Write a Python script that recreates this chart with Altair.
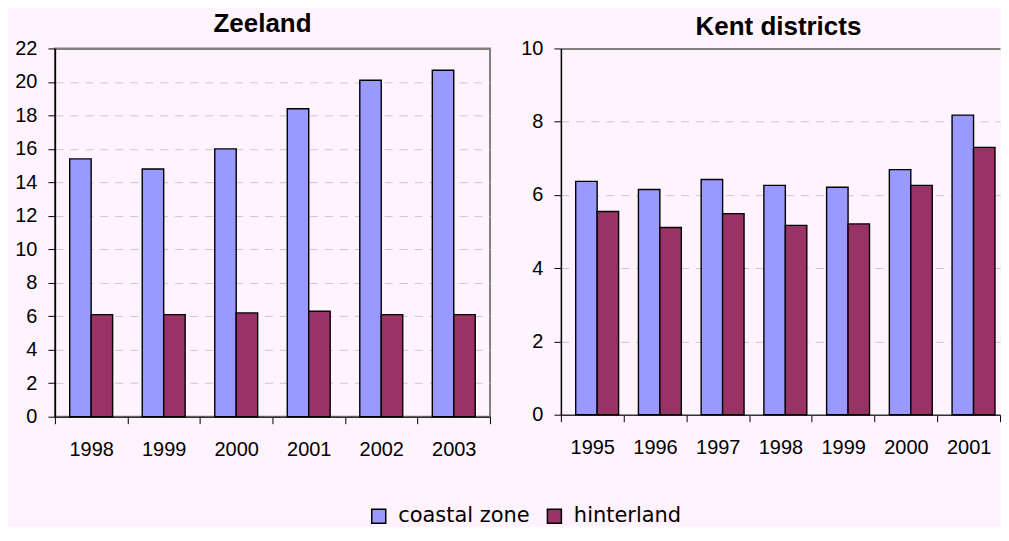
import altair as alt
import pandas as pd

# ---- data ----
series = ["coastal zone", "hinterland"]
colors = ["#9999FF", "#993366"]

z_years = ["1998", "1999", "2000", "2001", "2002", "2003"]
z_coastal = [15.4, 14.8, 16.0, 18.4, 20.1, 20.7]
z_hinter = [6.1, 6.1, 6.2, 6.3, 6.1, 6.1]

k_years = ["1995", "1996", "1997", "1998", "1999", "2000", "2001"]
k_coastal = [6.37, 6.15, 6.42, 6.26, 6.21, 6.69, 8.18]
k_hinter = [5.55, 5.11, 5.49, 5.17, 5.21, 6.26, 7.30]

z_ticks = [0, 2, 4, 6, 8, 10, 12, 14, 16, 18, 20, 22]
k_ticks = [0, 2, 4, 6, 8, 10]

FONT = "Liberation Sans"
BG = "#FFF4FE"


def long_df(years, a, b):
    rows = []
    for y, v1, v2 in zip(years, a, b):
        rows.append({"year": y, "series": series[0], "value": v1})
        rows.append({"year": y, "series": series[1], "value": v2})
    return pd.DataFrame(rows)


legend = alt.Legend(
    title=None,
    orient="none",
    legendX=314,
    legendY=458,
    direction="horizontal",
    symbolType="square",
    symbolSize=196,
    symbolStrokeColor="black",
    symbolStrokeWidth=1.5,
    symbolOpacity=1,
    labelFont="DejaVu Sans",
    labelFontSize=21,
    labelColor="black",
    labelOffset=9,
    columnPadding=14,
)


def panel(years, a, b, title, ticks, w, h, pad_outer, title_offset, title_dx, view):
    df = long_df(years, a, b)
    top = ticks[-1]
    grid_dash = {"condition": {"test": f"datum.value == {top}", "value": [1, 0]}, "value": [8, 7]}
    grid_color = {"condition": {"test": f"datum.value == {top}", "value": "#808080"}, "value": "#C8C8C8"}
    grid_width = {"condition": {"test": f"datum.value == {top}", "value": 2}, "value": 1}
    bars = alt.Chart(df).mark_bar(stroke="black", strokeWidth=1.4).encode(
        x=alt.X(
            "year:N",
            sort=years,
            scale=alt.Scale(paddingInner=0, paddingOuter=0),
            axis=alt.Axis(
                title=None,
                labelAngle=0,
                tickBand="extent",
                tickSize=7,
                tickColor="black",
                tickWidth=1,
                domainColor="#333333",
                domainWidth=1.5,
                labelPadding=16,
                labelFont=FONT,
                labelFontSize=20,
                labelColor="black",
                grid=False,
            ),
        ),
        xOffset=alt.XOffset(
            "series:N",
            sort=series,
            scale=alt.Scale(paddingInner=0, paddingOuter=pad_outer),
        ),
        y=alt.Y(
            "value:Q",
            scale=alt.Scale(domain=[0, top], nice=False),
            axis=alt.Axis(
                title=None,
                values=ticks,
                tickSize=7,
                tickColor="black",
                domainColor="black",
                domainWidth=1.5,
                labelPadding=11,
                labelFont=FONT,
                labelFontSize=20,
                labelColor="black",
                grid=True,
                gridDash=grid_dash,
                gridColor=grid_color,
                gridWidth=grid_width,
            ),
        ),
        color=alt.Color("series:N", scale=alt.Scale(domain=series, range=colors), legend=legend),
    )
    return bars.properties(
        width=w,
        height=h,
        view=view,
        title=alt.TitleParams(
            text=title,
            font=FONT,
            fontSize=26,
            fontWeight="bold",
            color="black",
            offset=title_offset,
            dx=title_dx,
            anchor="middle",
        ),
    )


zeeland = panel(
    z_years, z_coastal, z_hinter, "Zeeland", z_ticks, 436, 369, 0.69, 1, -10,
    alt.ViewBackground(stroke="#808080", strokeWidth=2),
)
kent = panel(
    k_years, k_coastal, k_hinter, "Kent districts", k_ticks, 440, 367, 0.62, -2, -2,
    alt.ViewBackground(stroke="transparent"),
)

chart = (
    alt.hconcat(zeeland, kent, spacing=71, bounds="flush")
    .properties(background=BG, padding={"left": 5, "top": 2, "right": 0, "bottom": 0})
    .configure_view(stroke="transparent")
)

chart.save("out.html", embed_options={"renderer": "svg", "actions": False})
